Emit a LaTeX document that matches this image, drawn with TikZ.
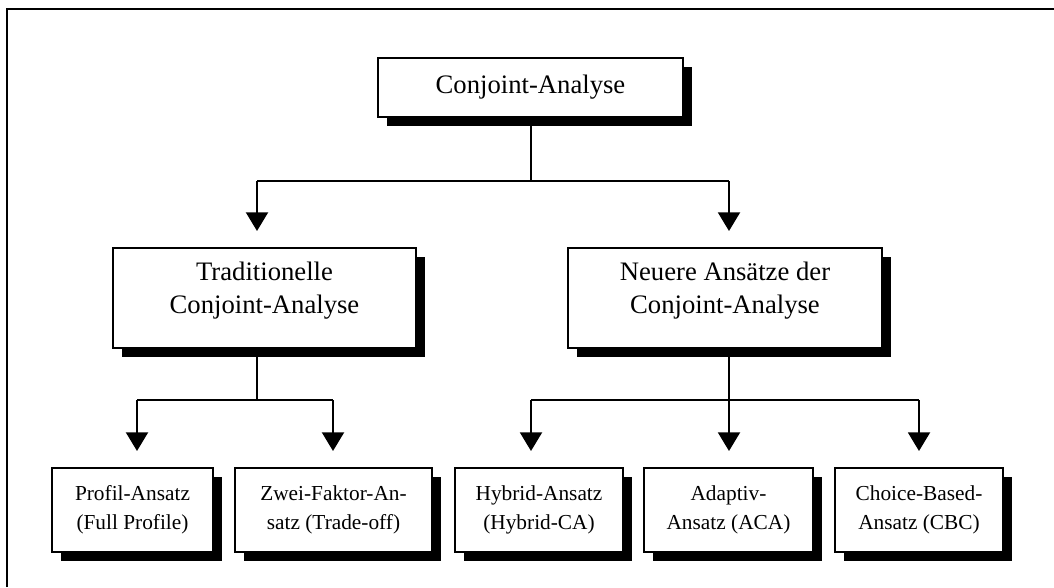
\documentclass[tikz,border=0pt]{standalone}
\usepackage{fontspec}
\setmainfont{Liberation Serif}
\usetikzlibrary{arrows.meta,shadows}

\begin{document}
\begin{tikzpicture}[x=0.75pt, y=-0.75pt,
    box/.style={draw, line width=1.5pt, fill=white, align=center, inner sep=2pt,
      general shadow={fill=black, shadow xshift=6.5pt, shadow yshift=-6.5pt}},
    bigbox/.style={box, font=\fontsize{20}{25}\selectfont},
    smallbox/.style={box, font=\fontsize{16}{21.5}\selectfont, minimum height=63pt},
    conn/.style={line width=1.5pt},
    arr/.style={conn, shorten >=12pt, -{Triangle[width=16.5pt,length=14pt]}}]
    \useasboundingbox (0,0) rectangle (1054,587);

    % Frame
    \draw[line width=1.5pt] (7,587) -- (7,9) -- (1054,9);

    % Level y-coordinates (pixels)
    \def\yone{87.5}
    \def\ytwo{298}
    \def\ythree{510}

    % Boxes
    \node[bigbox, minimum width=228.75pt, minimum height=44.25pt] (ca) at (530.5,\yone) {Conjoint-Analyse};
    \node[bigbox, text depth=15pt, minimum width=227.25pt, minimum height=75pt] (trad) at (264.5,\ytwo) {Traditionelle\\Conjoint-Analyse};
    \node[bigbox, text depth=15pt, minimum width=235.5pt, minimum height=75pt] (neu) at (725,\ytwo) {Neuere Ansätze der\\Conjoint-Analyse};

    \node[smallbox, minimum width=120.75pt] (prof) at (132.5,\ythree) {Profil-Ansatz\\(Full Profile)};
    \node[smallbox, minimum width=147.75pt] (zwei) at (333.5,\ythree) {Zwei-Faktor-An-\\satz (Trade-off)};
    \node[smallbox, minimum width=126pt] (hyb) at (539,\ythree) {Hybrid-Ansatz\\(Hybrid-CA)};
    \node[smallbox, minimum width=126.75pt] (aca) at (728.5,\ythree) {Adaptiv-\\Ansatz (ACA)};
    \node[smallbox, minimum width=126pt] (cbc) at (919,\ythree) {Choice-Based-\\Ansatz (CBC)};

    % Bus points of the connectors
    \coordinate (b1) at (257,181);
    \coordinate (b2) at (729,181);
    \coordinate (c1) at (137,400);
    \coordinate (c2) at (333,400);
    \coordinate (c0) at (257,400);
    \coordinate (d1) at (531,400);
    \coordinate (d2) at (729,400);
    \coordinate (d3) at (919,400);

    % First split
    \draw[conn] (ca.south) -- (ca.south |- b1);
    \draw[conn] (b1) -- (b2);
    \foreach \b/\n in {b1/trad, b2/neu} {
      \draw[arr] (\b) -- (\b |- \n.north);
    }

    % Traditional approaches
    \draw[conn] (c0 |- trad.south) -- (c0);
    \draw[conn] (c1) -- (c2);
    \foreach \b/\n in {c1/prof, c2/zwei} {
      \draw[arr] (\b) -- (\b |- \n.north);
    }

    % Newer approaches
    \draw[conn] (d2 |- neu.south) -- (d2);
    \draw[conn] (d1) -- (d3);
    \foreach \b/\n in {d1/hyb, d2/aca, d3/cbc} {
      \draw[arr] (\b) -- (\b |- \n.north);
    }
  \end{tikzpicture}
\end{document}
